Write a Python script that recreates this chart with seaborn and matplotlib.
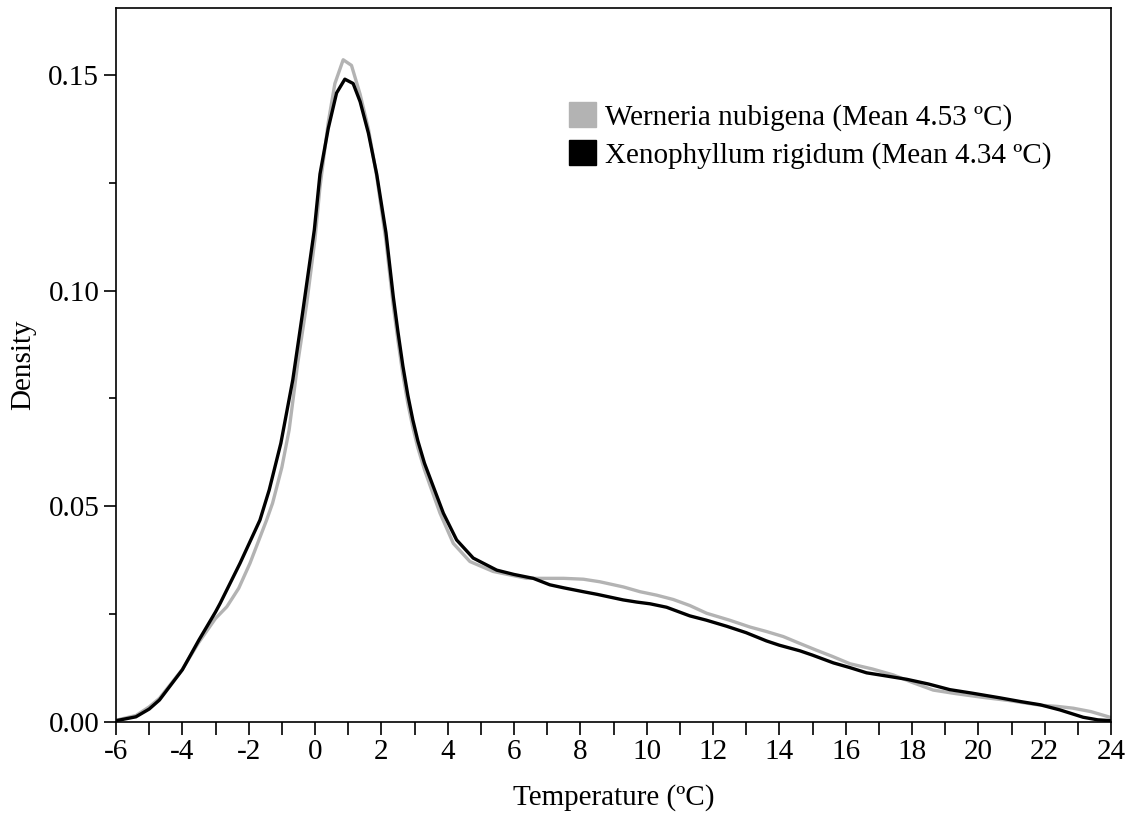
import matplotlib
matplotlib.use("Agg")
import matplotlib.pyplot as plt
from matplotlib.patches import Patch
from matplotlib.ticker import MultipleLocator, FormatStrFormatter
import seaborn as sns
import pandas as pd

# Black curve: Xenophyllum rigidum
x_xeno = [-6, -5.4, -5, -4.69, -4.0, -3.5, -3.0, -2.86, -2.26, -1.66, -1.38, -1.03, -0.67,
          -0.375, -0.02, 0.15, 0.4, 0.65, 0.9, 1.15, 1.36, 1.61, 1.86, 2.14, 2.36, 2.5, 2.65,
          2.8, 2.95, 3.1, 3.3, 3.57, 3.87, 4.27, 4.77, 5.48, 6.0, 6.58, 7.08,
          7.5, 8.09, 8.5, 9.29, 9.7, 10.1, 10.6, 11.3, 11.8, 12.41, 13.0, 13.61, 14.0, 14.62,
          15.0, 15.63, 16.13, 16.63, 17.2, 17.84, 18.5, 19.14, 19.8, 20.65, 21.3, 21.86,
          22.46, 23.16, 23.6, 24.0]
y_xeno = [0.0003, 0.0012, 0.0030, 0.0051, 0.0121, 0.0190, 0.0255, 0.0275, 0.0368, 0.0468,
          0.0538, 0.0646, 0.0793, 0.0948, 0.1141, 0.1270, 0.1376, 0.1458, 0.1490, 0.1480,
          0.1438, 0.1365, 0.1270, 0.1134, 0.0986, 0.0905, 0.0825, 0.0757, 0.0700, 0.0652,
          0.0600, 0.0545, 0.0484, 0.0422, 0.0380, 0.0352, 0.0342, 0.0333, 0.0318,
          0.0311, 0.0302, 0.0296, 0.0283, 0.0278, 0.0274, 0.0266, 0.0246, 0.0236, 0.0222,
          0.0207, 0.0188, 0.0178, 0.0165, 0.0155, 0.0137, 0.0126, 0.0114, 0.0107, 0.0099,
          0.0088, 0.0075, 0.0067, 0.0056, 0.0047, 0.0040, 0.0028, 0.0011, 0.0005, 0.0003]

# Grey curve: Werneria nubigena
x_wern = [-6, -5.4, -5, -4.69, -4.0, -3.5, -3.0, -2.66, -2.3, -1.96, -1.46, -1.28, -1.0,
          -0.78, -0.52, -0.25, 0, 0.15, 0.4, 0.6, 0.85, 1.1, 1.36, 1.61, 1.86, 2.14, 2.36,
          2.5, 2.65, 2.8, 2.95, 3.1, 3.3, 3.47, 3.77, 4.17, 4.67, 5.37, 6.38, 6.98,
          7.5, 8.09, 8.59, 9.3, 9.8, 10.3, 10.8, 11.3, 11.81, 12.5, 13.12, 13.6, 14.12, 14.62,
          15.1, 15.6, 16.13, 16.8, 17.44, 18.0, 18.64, 19.3, 20.15, 20.9, 21.86, 22.4, 22.86,
          23.4, 23.97, 24.0]
y_wern = [0.0004, 0.0015, 0.0035, 0.0055, 0.0122, 0.0185, 0.0240, 0.0267, 0.0310, 0.0368,
          0.0468, 0.0507, 0.0590, 0.0677, 0.0832, 0.0970, 0.1120, 0.1240, 0.1390, 0.1480,
          0.1535, 0.1522, 0.1455, 0.1375, 0.1265, 0.1115, 0.0965, 0.0885, 0.0805, 0.0738,
          0.0683, 0.0636, 0.0585, 0.0548, 0.0484, 0.0414, 0.0372, 0.0349, 0.0333, 0.0333,
          0.0333, 0.0331, 0.0325, 0.0313, 0.0302, 0.0294, 0.0284, 0.0270, 0.0252, 0.0236,
          0.0220, 0.0210, 0.0198, 0.0182, 0.0167, 0.0152, 0.0135, 0.0123, 0.0109, 0.0092,
          0.0074, 0.0066, 0.0057, 0.0050, 0.0039, 0.0036, 0.0032, 0.0024, 0.0011, 0.0010]

labels = ["Werneria nubigena (Mean 4.53 ºC)", "Xenophyllum rigidum (Mean 4.34 ºC)"]
colors = ["#b3b3b3", "#000000"]

sns.set_style("ticks")
plt.rcParams['font.family'] = ['Liberation Serif', 'DejaVu Serif']
plt.rcParams['text.color'] = 'black'
plt.rcParams['axes.labelcolor'] = 'black'
plt.rcParams['xtick.color'] = 'black'
plt.rcParams['ytick.color'] = 'black'

FS = 21

fig = plt.figure(figsize=(11.32, 8.14), dpi=100)
ax = fig.add_axes([116/1132, 1 - 722/814, 995/1132, 714/814])

df_w = pd.DataFrame({"Temperature": x_wern, "Density": y_wern})
df_x = pd.DataFrame({"Temperature": x_xeno, "Density": y_xeno})
sns.lineplot(data=df_w, x="Temperature", y="Density", color=colors[0], lw=2.4, ax=ax, sort=False)
sns.lineplot(data=df_x, x="Temperature", y="Density", color=colors[1], lw=2.4, ax=ax, sort=False)

ax.set_xlim(-6, 24)
ax.set_ylim(0, 0.1655)
ax.xaxis.set_major_locator(MultipleLocator(2))
ax.xaxis.set_minor_locator(MultipleLocator(1))
ax.yaxis.set_major_locator(MultipleLocator(0.05))
ax.yaxis.set_minor_locator(MultipleLocator(0.025))
ax.yaxis.set_major_formatter(FormatStrFormatter('%.2f'))
ax.xaxis.set_major_formatter(FormatStrFormatter('%d'))

ax.tick_params(axis='both', which='both', direction='out', colors='black', width=1.2,
               labelsize=FS, labelcolor='black')
ax.tick_params(axis='x', which='major', length=9, pad=3)
ax.tick_params(axis='x', which='minor', length=9)
ax.tick_params(axis='y', which='major', length=9, pad=3)
ax.tick_params(axis='y', which='minor', length=5)
for s in ax.spines.values():
    s.set_color('black')
    s.set_linewidth(1.2)

ax.set_xlabel("Temperature (ºC)", fontsize=FS, labelpad=14, color='black')
ax.set_ylabel("Density", fontsize=FS, labelpad=9, color='black')

handles = [Patch(facecolor=c, edgecolor=c) for c in colors]
ax.legend(handles, labels, loc='upper left', bbox_to_anchor=(0.455, 0.868), frameon=False,
          fontsize=FS, handlelength=0.95, handleheight=0.95, handletextpad=0.3,
          labelspacing=0.3, borderpad=0, borderaxespad=0, labelcolor='black')

fig.savefig("out.png", dpi=100)
